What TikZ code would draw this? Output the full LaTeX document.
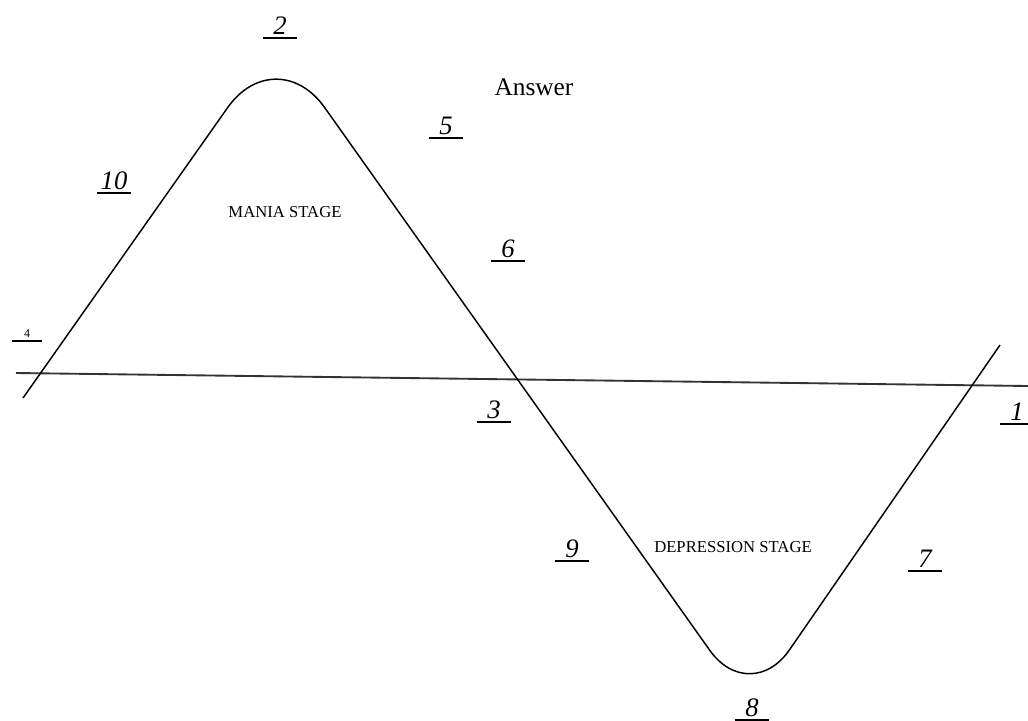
\documentclass[tikz,border=0pt]{standalone}
\usepackage{fontspec}
\setmainfont{Liberation Serif}
\usepackage{tikz}
\usetikzlibrary{positioning}

\tikzset{
  num/.style={font=\fontsize{20}{20}\selectfont\itshape, anchor=south,
    inner xsep=0pt, inner ysep=2.5pt, minimum width=25pt},
  stage/.style={font=\fontsize{12.5}{13}\selectfont},
  uline/.style={line width=0.9pt}
}

\begin{document}
\begin{tikzpicture}[x=0.75pt,y=-0.75pt]
      \useasboundingbox (0,0) rectangle (1028,721);
      % axis and the mood curve
      \coordinate (axl) at (16,373);
      \coordinate (axr) at (1028,386);
      \coordinate (cs) at (23,398);
      \coordinate (peak) at (276,39);
      \coordinate (trough) at (750,707);
      \coordinate (ce) at (1000,345);
      \draw[line width=1.4pt, black!80] (axl) -- (axr);
      \draw[line width=1.1pt] (cs) [rounded corners=63pt] -- (peak)
        [rounded corners=52pt] -- (trough) -- (ce);

      \node[stage] (mania) at (285,212) {MANIA STAGE};
      \node[stage] (depr) at (733,547) {DEPRESSION STAGE};
      \node[font=\fontsize{19}{19}\selectfont] (answer) at (534,87) {Answer};

      % numbered blanks
      \node[num] (n2) at (280,38) {2};
      \node[num] (n5) at (446,138) {5};
      \node[num] (n10) at (114,193) {10};
      \node[num] (n6) at (508,261) {6};
      \node[num, font=\fontsize{9}{9}\selectfont, minimum width=22pt] (n4) at (27,341) {4};
      \node[num] (n3) at (494,422) {3};
      \node[num] (n9) at (572,561) {9};
      \node[num] (n7) at (925,571) {7};
      \node[num] (n8) at (752,720) {8};
      \node[num] (n1) at (1017,424) {1};
      \foreach \n in {n1,n2,n3,n4,n5,n6,n7,n8,n9,n10}
        \draw[uline] (\n.south west) -- (\n.south east);
    \end{tikzpicture}
\end{document}
